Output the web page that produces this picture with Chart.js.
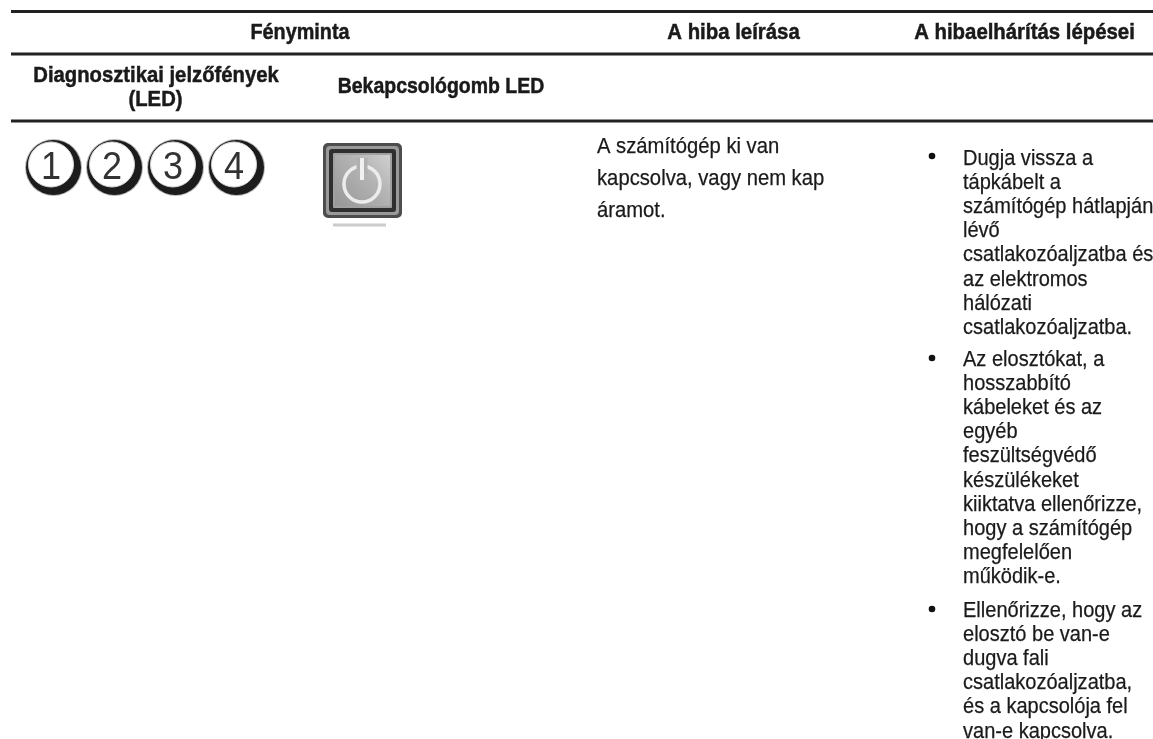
<!DOCTYPE html>
<html lang="hu">
<head>
<meta charset="utf-8">
<title>Fényminta</title>
<script src="https://cdn.jsdelivr.net/npm/chart.js@4"></script>
<style>
  html, body { margin: 0; padding: 0; background: #fff; overflow: hidden; }
  canvas { display: block; }
</style>
</head>
<body>
<canvas id="ledTable" width="1153" height="739"></canvas>
<script>
// Table content
const headerLabels = ['Fényminta', 'A hiba leírása', 'A hibaelhárítás lépései'];
const subHeaderLabels = [['Diagnosztikai jelzőfények', '(LED)'], ['Bekapcsológomb LED']];
const descriptionLines = ['A számítógép ki van', 'kapcsolva, vagy nem kap', 'áramot.'];
const stepOne = ['Dugja vissza a', 'tápkábelt a', 'számítógép hátlapján', 'lévő', 'csatlakozóaljzatba és', 'az elektromos', 'hálózati', 'csatlakozóaljzatba.'];
const stepTwo = ['Az elosztókat, a', 'hosszabbító', 'kábeleket és az', 'egyéb', 'feszültségvédő', 'készülékeket', 'kiiktatva ellenőrizze,', 'hogy a számítógép', 'megfelelően', 'működik-e.'];
const stepThree = ['Ellenőrizze, hogy az', 'elosztó be van-e', 'dugva fali', 'csatlakozóaljzatba,', 'és a kapcsolója fel', 'van-e kapcsolva.'];

// Marks
const ruleRows = [11.5, 54, 121];
const ledLabels = ['1', '2', '3', '4'];
const ledColumns = [51, 112, 173, 234];
const ledRow = [164.5, 164.5, 164.5, 164.5];
const bulletRows = [156, 358, 609];

const FONT = '"Liberation Sans", sans-serif';
const BUTTON_X = 362.5, BUTTON_Y = 180.5;

const ctx = document.getElementById('ledTable').getContext('2d');

// lighter towards the upper right, like the button face in the photo
const faceGradient = ctx.createLinearGradient(333, 208, 392, 153);
faceGradient.addColorStop(0, '#959595');
faceGradient.addColorStop(0.6, '#b4b4b4');
faceGradient.addColorStop(1, '#d2d2d2');

// one closed rounded box of the power button, half sizes in table units
function buttonBox(halfW, halfH, color, line, fill) {
    return {
        type: 'line',
        data: [
            { x: BUTTON_X - halfW, y: BUTTON_Y - halfH },
            { x: BUTTON_X + halfW, y: BUTTON_Y - halfH },
            { x: BUTTON_X + halfW, y: BUTTON_Y + halfH },
            { x: BUTTON_X - halfW, y: BUTTON_Y + halfH },
            { x: BUTTON_X - halfW, y: BUTTON_Y - halfH }
        ],
        borderColor: color,
        backgroundColor: fill,
        borderWidth: line,
        borderJoinStyle: 'round',
        borderCapStyle: 'round',
        fill: 'shape',
        pointRadius: 0,
        tension: 0
    };
}

function segment(x1, y1, x2, y2, color, width) {
    return {
        type: 'line',
        data: [{ x: x1, y: y1 }, { x: x2, y: y2 }],
        borderColor: color,
        borderWidth: width,
        pointRadius: 0,
        fill: false
    };
}

const ledFaces = ledColumns.map((x, i) => ({ x: x, y: ledRow[i] }));
const ledShadow = ledColumns.map((x, i) => ({ x: x + 2.5, y: ledRow[i] + 3 }));

// first in the list is painted last, so it is on top
const datasets = [
    // power icon
    segment(362, 158, 362, 180, '#f0f0f0', 4),
    segment(362, 158, 362, 174, '#b0b0b0', 11),
    {
        type: 'scatter',
        data: [{ x: 362, y: 184 }],
        pointRadius: 18,
        pointBackgroundColor: 'rgba(0,0,0,0)',
        pointBorderColor: '#ececec',
        pointBorderWidth: 3.5
    },
    buttonBox(28.5, 26.5, '#a0a0a0', 2, faceGradient),
    buttonBox(30.5, 28.5, '#2f2f2f', 6, '#2f2f2f'),
    buttonBox(32.5, 30.5, '#999999', 8, '#999999'),
    buttonBox(34.5, 32.5, '#4d4d4d', 10, '#4d4d4d'),
    segment(333, 225, 386, 225, '#cccccc', 3),
    // LEDs
    {
        type: 'scatter',
        data: ledFaces,
        pointRadius: 22.5,
        pointBackgroundColor: '#ffffff',
        pointBorderColor: '#d8d8d8',
        pointBorderWidth: 1
    },
    {
        type: 'scatter',
        data: ledShadow,
        pointRadius: 27.5,
        pointBackgroundColor: '#1c1c1c',
        pointBorderWidth: 0
    },
    {
        type: 'scatter',
        data: ledShadow,
        pointRadius: 28.5,
        pointBackgroundColor: '#b8b8b8',
        pointBorderWidth: 0
    }
];
ruleRows.forEach(y => datasets.push(segment(11, y, 1153, y, '#222222', 3)));
datasets.push({
    type: 'scatter',
    data: bulletRows.map(y => ({ x: 932, y: y })),
    pointRadius: 3.3,
    pointBackgroundColor: '#111111',
    pointBorderWidth: 0
});

// table text goes through the same scales as the marks
const tableText = {
    id: 'tableText',
    afterDatasetsDraw(chart) {
        const c = chart.ctx;
        const sx = chart.scales.x, sy = chart.scales.y;
        // squeeze horizontally, the original face is a condensed one
        const put = (str, x, y, align, font, squeeze, heavy, color) => {
            c.save();
            c.translate(sx.getPixelForValue(x), sy.getPixelForValue(y));
            c.scale(squeeze, 1);
            c.font = font;
            c.textAlign = align;
            c.textBaseline = 'alphabetic';
            c.fillStyle = color || '#1a1a1a';
            c.fillText(str, 0, 0);
            if (heavy) {
                c.strokeStyle = c.fillStyle;
                c.lineWidth = heavy;
                c.strokeText(str, 0, 0);
            }
            c.restore();
        };
        const bold = 'bold 22.5px ' + FONT;
        const body = '22px ' + FONT;
        put(headerLabels[0], 300, 39, 'center', bold, 0.88, 0.5);
        put(headerLabels[1], 733.5, 39, 'center', bold, 0.905, 0.5);
        put(headerLabels[2], 1024.5, 39, 'center', bold, 0.905, 0.5);
        put(subHeaderLabels[0][0], 156, 82, 'center', bold, 0.9, 0.5);
        put(subHeaderLabels[0][1], 155.5, 106, 'center', bold, 0.9, 0.5);
        put(subHeaderLabels[1][0], 441, 93, 'center', bold, 0.865, 0.5);

        descriptionLines.forEach((s, i) => put(s, 597, 153 + i * 32, 'left', body, 0.92, 0.25));
        stepOne.forEach((s, i) => put(s, 963, 165 + i * 24.1, 'left', body, 0.91, 0.25));
        stepTwo.forEach((s, i) => put(s, 963, 366 + i * 24.1, 'left', body, 0.91, 0.25));
        stepThree.forEach((s, i) => put(s, 963, 617 + i * 24.1, 'left', body, 0.91, 0.25));

        ledLabels.forEach((s, i) => {
            put(s, ledColumns[i], 179, 'center', '38px ' + FONT, 0.95, 0, '#333333');
        });
    }
};

new Chart(ctx, {
    data: { datasets: datasets },
    plugins: [tableText],
    options: {
        responsive: false,
        animation: false,
        events: [],
        layout: { padding: 0, autoPadding: false },
        plugins: { legend: { display: false }, tooltip: { enabled: false } },
        scales: {
            x: { type: 'linear', min: 0, max: 1153, display: false },
            y: { type: 'linear', min: 0, max: 739, reverse: true, display: false }
        }
    }
});
</script>
</body>
</html>
